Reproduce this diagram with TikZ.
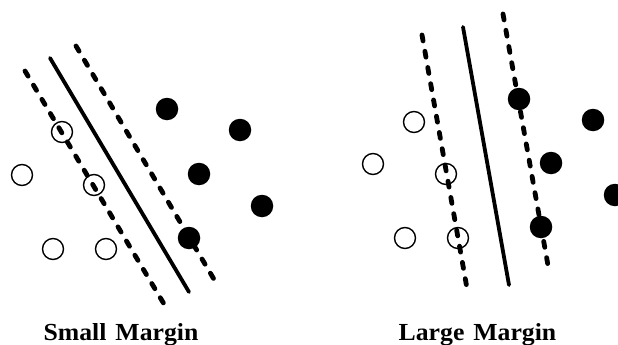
\documentclass[tikz,border=0pt]{standalone}
\usepackage{fontspec}
\setmainfont{Liberation Serif}
\newfontfamily\mylabfam[FakeStretch=1.05]{Liberation Serif}
\newcommand\mylabfont{\mylabfam\bfseries\fontsize{24.5}{28}\selectfont\spaceskip 9pt\relax}
\begin{document}
\begin{tikzpicture}[x=1pt,y=-1pt,
  hyper/.style={line width=3.8pt,line cap=round},
  marg/.style={line width=4.8pt,dash pattern=on 6pt off 10.5pt,line cap=round},
  negpt/.style={circle,draw,line width=1.4pt,minimum size=21pt,inner sep=0pt},
  pospt/.style={circle,fill,minimum size=22.5pt,inner sep=0pt},
  lab/.style={anchor=base,inner sep=0pt,font=\mylabfont}]
\useasboundingbox (0,0) rectangle (618,345);
% left panel
\coordinate (la1) at (25,71); \coordinate (la2) at (164,304);
\coordinate (ls1) at (50,58); \coordinate (ls2) at (189,292);
\coordinate (lb1) at (76,46); \coordinate (lb2) at (215,281);
\draw[marg] (la1) -- (la2);
\draw[hyper] (ls1) -- (ls2);
\draw[marg] (lb1) -- (lb2);
\node[negpt] (n1) at (62,132) {};
\node[negpt] (n2) at (22,175) {};
\node[negpt] (n3) at (94,185) {};
\node[negpt] (n4) at (53,249) {};
\node[negpt] (n5) at (106,249) {};
\node[pospt] (p1) at (167,109) {};
\node[pospt] (p2) at (240,130) {};
\node[pospt] (p3) at (199,174) {};
\node[pospt] (p4) at (262,206) {};
\node[pospt] (p5) at (189,238) {};
\node[lab] (t1) at (121,340) {Small Margin};
% right panel
\coordinate (ra1) at (422,35); \coordinate (ra2) at (468,294);
\coordinate (rs1) at (463,27); \coordinate (rs2) at (509,285);
\coordinate (rb1) at (503,14); \coordinate (rb2) at (549,271);
\draw[marg] (ra1) -- (ra2);
\draw[hyper] (rs1) -- (rs2);
\draw[marg] (rb1) -- (rb2);
\node[negpt] (m1) at (414,122) {};
\node[negpt] (m2) at (373,164) {};
\node[negpt] (m3) at (446,174) {};
\node[negpt] (m4) at (405,238) {};
\node[negpt] (m5) at (458,238) {};
\node[pospt] (q1) at (519,99) {};
\node[pospt] (q2) at (593,120) {};
\node[pospt] (q3) at (551,163) {};
\node[pospt] (q4) at (615,195) {};
\node[pospt] (q5) at (541,227) {};
\node[lab] (t2) at (477.5,340) {Large Margin};
\end{tikzpicture}
\end{document}
